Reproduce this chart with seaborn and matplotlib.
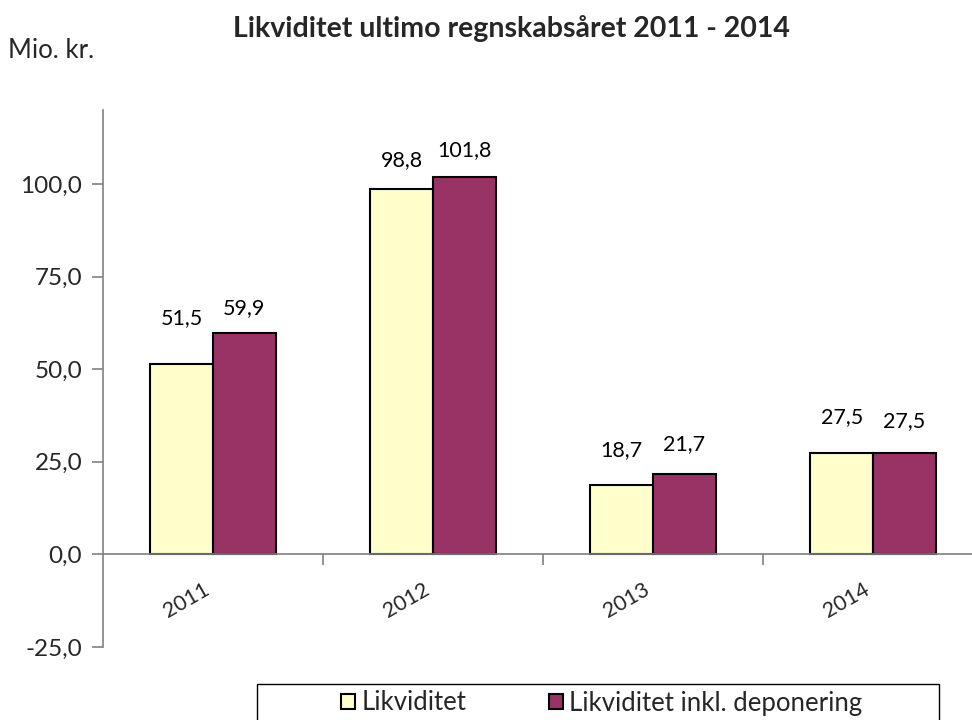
import pandas as pd
import seaborn as sns
import matplotlib
matplotlib.use("Agg")
import matplotlib.pyplot as plt
from matplotlib.patches import Rectangle
from matplotlib.ticker import FuncFormatter, FixedLocator

# --- Data ---
YEARS = ["2011", "2012", "2013", "2014"]
SERIES = ["Likviditet", "Likviditet inkl. deponering"]
LIKVIDITET = [51.5, 98.8, 18.7, 27.5]
LIKVIDITET_DEP = [59.9, 101.8, 21.7, 27.5]
Y_TICKS = [-25, 0, 25, 50, 75, 100]

# label offsets above each bar (pixels), as placed in the original
LABEL_OFFSETS = [[46, 28, 35, 35], [24, 27, 30, 31]]

COLORS = ["#FFFFCC", "#993366"]
AXIS_GREY = "#808080"


def comma(v, pos=None):
    return f"{v:.1f}".replace(".", ",")


df = pd.DataFrame({
    "year": YEARS * 2,
    "serie": [SERIES[0]] * len(YEARS) + [SERIES[1]] * len(YEARS),
    "value": LIKVIDITET + LIKVIDITET_DEP,
})

sns.set_theme(style="white")
plt.rcParams["font.family"] = ["Lato", "DejaVu Sans"]

fig = plt.figure(figsize=(9.72, 7.2), dpi=100)
ax = fig.add_axes([103 / 972, 1 - 647 / 720, 880 / 972, 537 / 720])

sns.barplot(data=df, x="year", y="value", hue="serie", palette=COLORS,
            width=0.57, gap=0, edgecolor="black", linewidth=1.5,
            saturation=1, ax=ax)

ax.set_xlim(-0.5, 3.5)
ax.set_ylim(-25, 120)
ax.set_xlabel("")
ax.set_ylabel("")

# value labels
for i, cont in enumerate(ax.containers):
    for j, bar in enumerate(cont):
        h = bar.get_height()
        ax.annotate(comma(h), (bar.get_x() + bar.get_width() / 2, h),
                    xytext=(0, LABEL_OFFSETS[i][j]), textcoords="offset pixels",
                    ha="center", va="center", fontsize=15.5, color="black")

# axes styling
for side in ["top", "right"]:
    ax.spines[side].set_visible(False)
ax.spines["left"].set_color(AXIS_GREY)
ax.spines["left"].set_linewidth(1.2)
ax.spines["bottom"].set_position(("data", 0))
ax.spines["bottom"].set_color(AXIS_GREY)
ax.spines["bottom"].set_linewidth(1.2)

ax.yaxis.set_major_locator(FixedLocator(Y_TICKS))
ax.yaxis.set_major_formatter(FuncFormatter(comma))
ax.tick_params(axis="y", which="major", direction="out", length=8, width=1.2,
               color=AXIS_GREY, labelsize=17.5, pad=7, left=True)

ax.set_xticks(range(len(YEARS)))
ax.set_xticklabels(YEARS, rotation=30, ha="right")
ax.xaxis.set_minor_locator(FixedLocator([0.5, 1.5, 2.5]))
ax.tick_params(axis="x", which="major", length=0, labelsize=15.5, pad=18)
ax.tick_params(axis="x", which="minor", direction="out", length=8, width=1.2,
               color=AXIS_GREY, bottom=True)

# legend: frame drawn separately, as the original box is wider than its entries
handles, labels = ax.get_legend_handles_labels()
ax.get_legend().remove()
fig.patches.append(Rectangle((257 / 972, 1 - 724 / 720), 682 / 972, 40 / 720,
                             transform=fig.transFigure, fill=False,
                             edgecolor="black", linewidth=1.0))
fig.legend(handles, labels, loc="center",
           bbox_to_anchor=(602 / 972, 1 - 703 / 720), ncol=2,
           fontsize=18.5, frameon=False,
           handlelength=0.55, handleheight=0.55, handletextpad=0.25,
           columnspacing=3.2, borderpad=0, borderaxespad=0)

fig.text(511 / 972, 1 - 28 / 720, "Likviditet ultimo regnskabsåret 2011 - 2014",
         ha="center", va="center", fontsize=20.5, fontweight="bold")
fig.text(8 / 972, 1 - 50 / 720, "Mio. kr.", ha="left", va="center", fontsize=18.5)

fig.savefig("out.png", dpi=100)
